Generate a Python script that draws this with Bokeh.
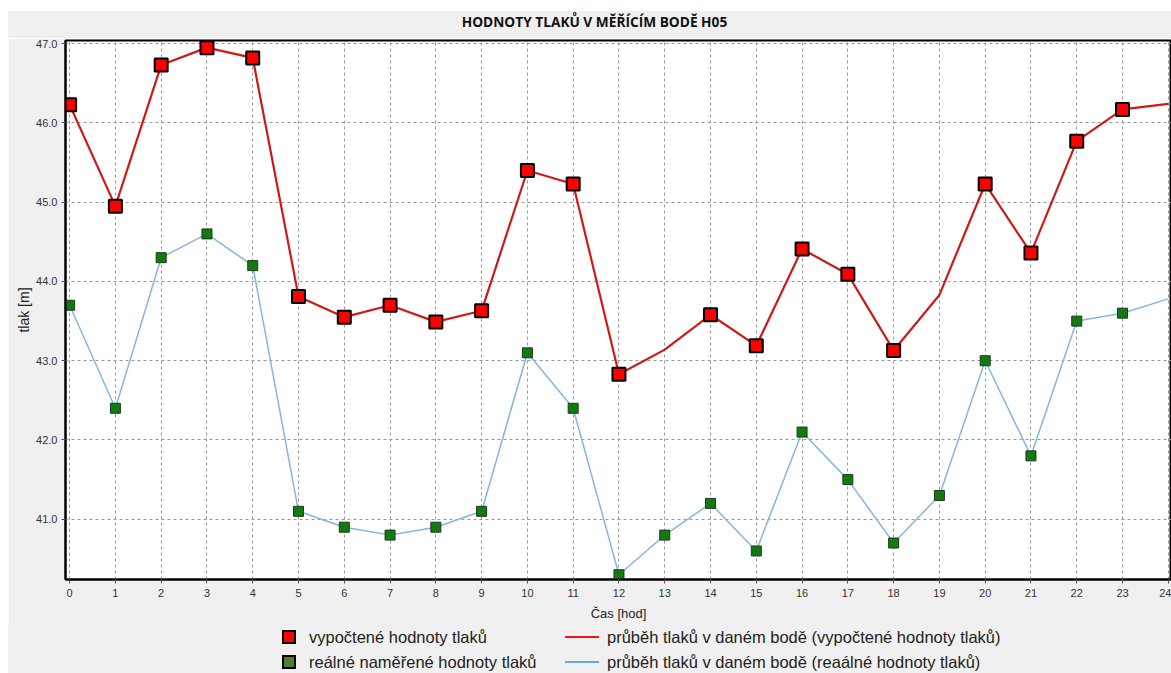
from bokeh.plotting import figure
from bokeh.layouts import column
from bokeh.models import FixedTicker, NumeralTickFormatter, ColumnDataSource, Div
from bokeh.embed import file_html
from bokeh.resources import INLINE

# ---- data ----
title_text = "HODNOTY TLAKŮ V MĚŘÍCÍM BODĚ H05"
x_label = "Čas [hod]"
y_label = "tlak [m]"
hours = list(range(25))
calc = [46.23, 44.95, 46.73, 46.95, 46.82, 43.81, 43.55, 43.70, 43.49, 43.63,
        45.40, 45.23, 42.83, 43.14, 43.58, 43.19, 44.41, 44.09, 43.13, 43.83,
        45.23, 44.36, 45.77, 46.17, 46.24]
real = [43.7, 42.4, 44.3, 44.6, 44.2, 41.1, 40.9, 40.8, 40.9, 41.1,
        43.1, 42.4, 40.3, 40.8, 41.2, 40.6, 42.1, 41.5, 40.7, 41.3,
        43.0, 41.8, 43.5, 43.6, 43.78]
calc_marker_hours = [0, 1, 2, 3, 4, 5, 6, 7, 8, 9, 10, 11, 12, 14, 15, 16, 17, 18, 20, 21, 22, 23]
real_marker_hours = list(range(24))
y_ticks = [41, 42, 43, 44, 45, 46, 47]
legend_labels = ["vypočtené hodnoty tlaků",
                 "reálné naměřené hodnoty tlaků",
                 "průběh tlaků v daném bodě (vypočtené hodnoty tlaků)",
                 "průběh tlaků v daném bodě (reaálné hodnoty tlaků)"]

BG = "#f0f0f0"
RED_LINE = "#cc1a1a"
BLUE_LINE = "#84b6e6"

# ---- title strip ----
title_div = Div(text=title_text, width=1163, height=27, margin=(11, 0, 0, 8),
                styles={"background-color": BG, "text-align": "center",
                        "font-family": "'Open Sans'", "font-weight": "bold",
                        "font-size": "13.7px", "line-height": "22px", "color": "#111111",
                        "text-indent": "10px"})

p1 = figure(width=1163, height=586, x_range=(-0.09, 24.07), y_range=(40.24, 47.04),
            output_backend="svg", toolbar_location=None,
            min_border_left=57, min_border_right=0, min_border_top=2, min_border_bottom=45,
            background_fill_color="white", border_fill_color=BG, margin=(0, 0, 0, 8))

p1.outline_line_color = "black"
p1.outline_line_width = 2

for g in (p1.xgrid, p1.ygrid):
    g.grid_line_color = "#999999"
    g.grid_line_dash = "3 3"
    g.grid_line_width = 1

p1.xaxis.ticker = FixedTicker(ticks=hours)
p1.yaxis.ticker = FixedTicker(ticks=y_ticks)
p1.yaxis.formatter = NumeralTickFormatter(format="0.0")
for ax in (p1.xaxis, p1.yaxis):
    ax.axis_line_color = "black"
    ax.axis_line_width = 2
    ax.major_tick_line_color = "#555555"
    ax.major_tick_out = 4
    ax.major_tick_in = 0
    ax.minor_tick_line_color = None
    ax.major_label_text_font = "Liberation Sans"
    ax.major_label_text_font_size = "11px"
    ax.major_label_text_color = "#333333"
    ax.axis_label_text_font = "Liberation Sans"
    ax.axis_label_text_font_style = "normal"
    ax.axis_label_text_color = "#222222"
p1.xaxis.axis_label = x_label
p1.yaxis.axis_label = y_label
p1.xaxis.axis_label_text_font_size = "13px"
p1.yaxis.axis_label_text_font_size = "14px"
p1.xaxis.major_label_standoff = 5
p1.yaxis.major_label_standoff = 4
p1.xaxis.axis_label_standoff = 6
p1.yaxis.axis_label_standoff = 1

# lines
p1.line(hours, real, line_color=BLUE_LINE, line_width=1.5)
p1.line(hours, calc, line_color=RED_LINE, line_width=2.2)

# markers
real_src = ColumnDataSource(dict(x=list(real_marker_hours), y=[real[h] for h in real_marker_hours]))
calc_src = ColumnDataSource(dict(x=list(calc_marker_hours), y=[calc[h] for h in calc_marker_hours]))
p1.scatter("x", "y", source=real_src, marker="square", size=10,
           fill_color="#117a11", line_color="#1f3a1f", line_width=1)
p1.scatter("x", "y", source=calc_src, marker="square", size=13,
           fill_color="#ff0000", line_color="black", line_width=2)

# ---- legend strip (HTML) ----
def box(left, top, fill):
    return (f'<span style="position:absolute;left:{left}px;top:{top}px;width:14px;height:14px;'
            f'box-sizing:border-box;background:{fill};border:2px solid #000;"></span>')

def seg(left, top, color):
    return (f'<span style="position:absolute;left:{left}px;top:{top}px;width:34px;height:2px;'
            f'background:{color};"></span>')

def lab(left, top, text):
    return (f'<span style="position:absolute;left:{left}px;top:{top}px;line-height:20px;'
            f'white-space:nowrap;">{text}</span>')

legend_html = (
    '<div style="position:relative;width:1163px;height:49px;">'
    + box(274, 6, "#ff0000") + lab(301, 3, legend_labels[0])
    + box(274, 31, "#4f7f2f") + lab(301, 28, legend_labels[1])
    + seg(557, 12, "#ff1010") + lab(599, 3, legend_labels[2])
    + seg(557, 37, "#6aa6e0") + lab(599, 28, legend_labels[3])
    + '</div>'
)
legend_div = Div(text=legend_html, width=1163, height=49, margin=(0, 0, 0, 8),
                 styles={"background-color": BG, "font-family": "'Liberation Sans'",
                         "font-size": "16.5px", "color": "#222222"})

p = column(title_div, p1, legend_div, spacing=0)

open("out.html", "w").write(file_html(p, INLINE))
